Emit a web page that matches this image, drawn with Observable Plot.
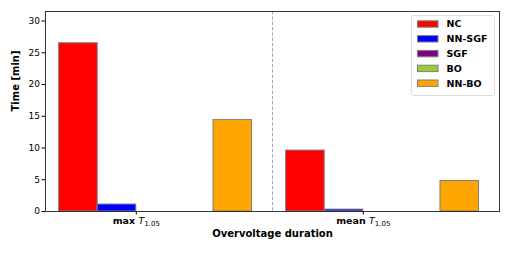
<!DOCTYPE html>
<html>
<head>
<meta charset="utf-8">
<script src="https://cdn.jsdelivr.net/npm/d3@7"></script>
<script src="https://cdn.jsdelivr.net/npm/@observablehq/plot@0.6"></script>
<style>
  html, body { margin: 0; padding: 0; background: white; }
  #chart { width: 510px; height: 255px; }
</style>
</head>
<body>
<div id="chart"></div>
<script>
const groups = ["max", "mean"];
const series = ["NC", "NN-SGF", "SGF", "BO", "NN-BO"];
const colors = ["#ff0000", "#0000ff", "#800080", "#9acd32", "#ffa500"];
const maxValues = [26.5, 1.1, 0, 0, 14.4];
const meanValues = [9.6, 0.3, 0, 0, 4.8];
const yTicks = [0, 5, 10, 15, 20, 25, 30];
const barWidth = 0.17;

const valuesByGroup = [maxValues, meanValues];
const table = [];
groups.forEach((g, gi) => {
  series.forEach((s, si) => {
    const x1 = gi + (si - 2) * barWidth;
    table.push({group: g, series: s, x1, x2: x1 + barWidth, value: valuesByGroup[gi][si]});
  });
});

const plot = Plot.plot({
  width: 510,
  height: 255,
  marginLeft: 45,
  marginRight: 11,
  marginTop: 11,
  marginBottom: 44,
  x: {domain: [-0.4, 1.6], axis: null},
  y: {domain: [0, 31.5], axis: null},
  color: {domain: series, range: colors},
  style: {fontFamily: "DejaVu Sans", fontSize: "9px", color: "black", background: "white"},
  marks: [
    Plot.ruleX([0.6], {stroke: "#aaaaaa", strokeWidth: 1, strokeDasharray: "3.5,1.8"}),
    Plot.rectY(table, {x1: "x1", x2: "x2", y1: 0, y2: "value", fill: "series", stroke: "#808080", strokeWidth: 1}),
    Plot.frame({stroke: "#222", strokeWidth: 0.9}),
    Plot.axisY({ticks: yTicks, tickSize: 3.5, tickPadding: 2, label: null, fill: "black", stroke: "black"}),
    Plot.axisX({ticks: [0, 1], tickFormat: (d) => groups[d], tickSize: 3.5, tickPadding: 3, label: null, fill: "black", stroke: "black"}),
    Plot.text(["Time [min]"], {frameAnchor: "left", dx: -29.5, rotate: -90, fontWeight: "bold", fontSize: 10, fill: "black"}),
    Plot.text(["Overvoltage duration"], {frameAnchor: "bottom", dy: 25, fontWeight: "bold", fontSize: 10, fill: "black"})
  ]
});

// Rich x tick labels: bold word, italic T, subscript 1.05
d3.select(plot).selectAll('g[aria-label="x-axis tick label"] text').each(function(d) {
  const t = d3.select(this);
  const word = t.text();
  t.text(null);
  t.append("tspan").attr("font-weight", "bold").attr("font-size", 9.5).text(word + " ");
  t.append("tspan").attr("font-style", "italic").attr("font-size", 9.5).text("T");
  t.append("tspan").attr("font-size", 7).attr("dy", "0.3em").text("1.05");
});

// Legend built from the plot's color scale
const color = plot.scale("color");
const svg = d3.select(plot);
const leg = svg.append("g").attr("transform", "translate(411.5,15.5)");
leg.append("rect").attr("width", 83).attr("height", 80).attr("rx", 2.5)
  .attr("fill", "white").attr("fill-opacity", 0.85).attr("stroke", "#dddddd").attr("stroke-width", 1);
color.domain.forEach((s, i) => {
  const cy = 8.5 + i * 14.8;
  leg.append("rect").attr("x", 6).attr("y", cy - 3.2).attr("width", 20.5).attr("height", 6.4)
    .attr("fill", color.range[i]).attr("stroke", "#808080").attr("stroke-width", 1);
  leg.append("text").attr("x", 35).attr("y", cy).attr("dy", "0.35em")
    .attr("text-anchor", "start")
    .attr("font-family", "DejaVu Sans").attr("font-size", 9.5).attr("font-weight", "bold")
    .attr("fill", "black").text(s);
});

document.getElementById("chart").appendChild(plot);
</script>
</body>
</html>
